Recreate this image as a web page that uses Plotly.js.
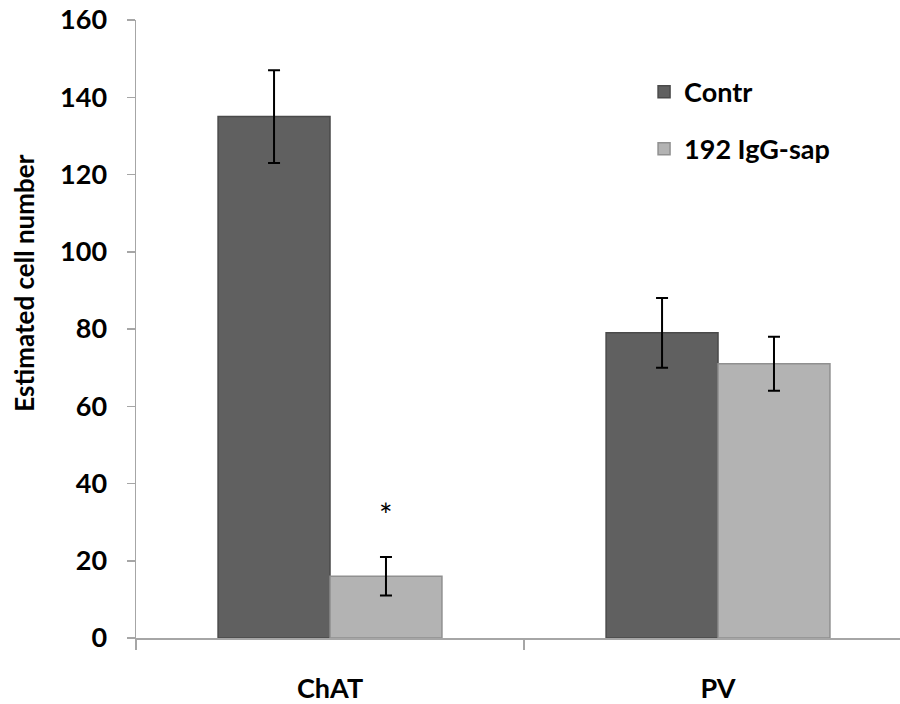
<!DOCTYPE html>
<html>
<head>
<meta charset="utf-8">
<script src="https://cdn.plot.ly/plotly-3.0.1.min.js"></script>
<style>html,body{margin:0;padding:0;background:#fff;}#chart{width:900px;height:704px;}</style>
</head>
<body>
<div id="chart"></div>
<script>
var categories = ["ChAT", "PV"];
var seriesNames = ["Contr", "192 IgG-sap"];
var contrValues = [135, 79];
var contrErrors = [12, 9];
var sapValues = [16, 71];
var sapErrors = [5, 7];
var yTicks = [0, 20, 40, 60, 80, 100, 120, 140, 160];
var significance = {category: 0, label: "*", y: 32};

var font = "Lato, 'Open Sans', 'Liberation Sans', sans-serif";

var traces = [
  {
    type: "bar", name: seriesNames[0], x: categories, y: contrValues,
    legendgroup: "a",
    marker: {color: "#606060", line: {color: "#4a4a4a", width: 1.5}},
    error_y: {type: "data", array: contrErrors, visible: true, color: "#000", thickness: 2, width: 6}
  },
  {
    type: "bar", name: seriesNames[1], x: categories, y: sapValues,
    legendgroup: "b",
    marker: {color: "#b3b3b3", line: {color: "#909090", width: 1.5}},
    error_y: {type: "data", array: sapErrors, visible: true, color: "#000", thickness: 2, width: 6}
  }
];

var layout = {
  width: 900, height: 704,
  margin: {l: 136, r: 0, t: 20, b: 66},
  paper_bgcolor: "#fff", plot_bgcolor: "#fff",
  barmode: "group", bargap: 0.423, bargroupgap: 0,
  showlegend: true,
  legend: {
    x: 0.665, y: 0.923, xanchor: "left", yanchor: "top",
    traceorder: "grouped", tracegroupgap: 19,
    font: {family: font, size: 27, color: "#000", weight: 700},
    bgcolor: "rgba(0,0,0,0)"
  },
  xaxis: {
    type: "category",
    range: [-0.5, 1.469],
    tickson: "boundaries",
    ticks: "outside", ticklen: 10, tickcolor: "#a6a6a6", tickwidth: 1.5,
    showline: true, linecolor: "#a6a6a6", linewidth: 1.5,
    showgrid: false, zeroline: false,
    tickfont: {family: font, size: 27, color: "#000", weight: 700},
    ticklabelstandoff: 26
  },
  yaxis: {
    range: [0, 160],
    tickvals: yTicks,
    ticks: "outside", ticklen: 8, tickcolor: "#a6a6a6", tickwidth: 1.5,
    showline: true, linecolor: "#a6a6a6", linewidth: 1.5,
    showgrid: false, zeroline: false,
    tickfont: {family: font, size: 27, color: "#000", weight: 700},
    ticklabelstandoff: 14
  },
  annotations: [
    {
      xref: "paper", yref: "paper",
      x: -0.146, y: 0.574, xanchor: "center", yanchor: "middle",
      text: "Estimated cell number", textangle: -90, showarrow: false,
      font: {family: font, size: 26, color: "#000", weight: 700}
    },
    {
      xref: "x", yref: "y",
      x: significance.category + 0.144, y: significance.y,
      text: significance.label, showarrow: false,
      font: {family: font, size: 32, color: "#000"}
    }
  ]
};

Plotly.newPlot("chart", traces, layout, {displayModeBar: false, staticPlot: true});
</script>
</body>
</html>
